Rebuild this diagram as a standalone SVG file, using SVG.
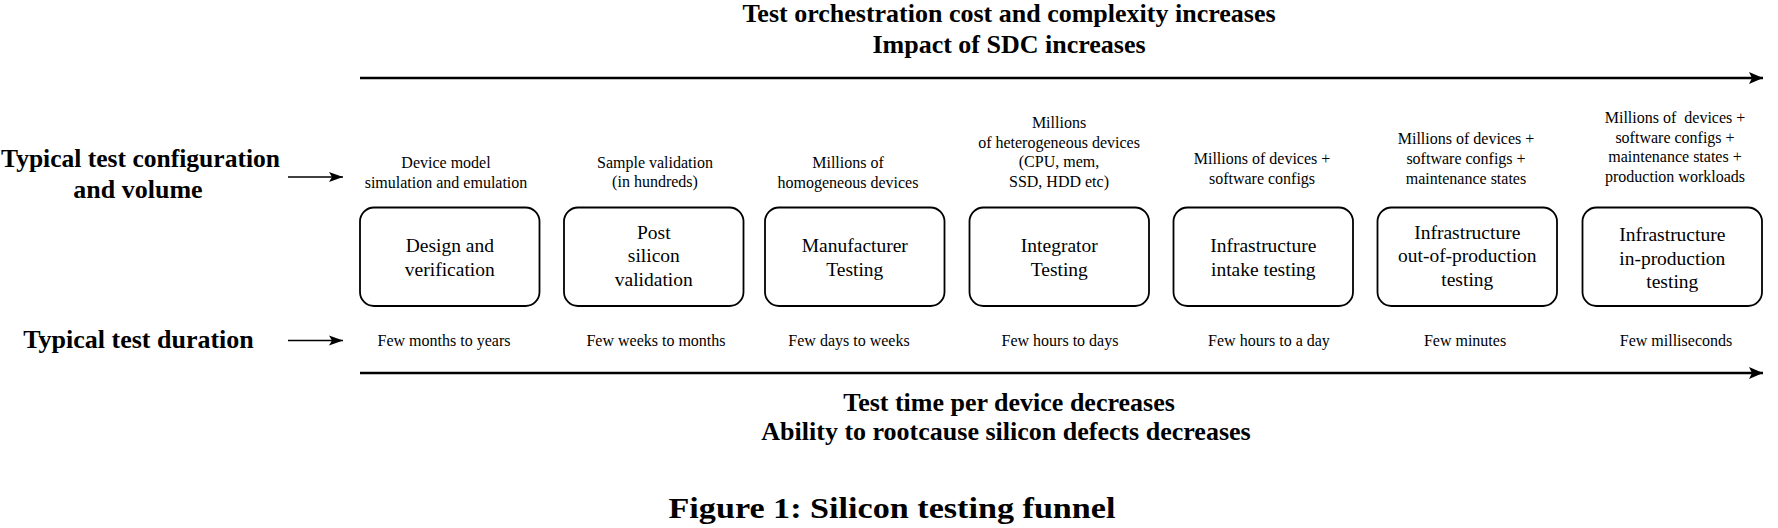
<svg xmlns="http://www.w3.org/2000/svg" width="1778" height="528" viewBox="0 0 1778 528">
<style>
.t{font-family:"Liberation Serif","Times New Roman",serif;fill:#000;text-anchor:middle}
.h{font-size:26px;font-weight:bold}
.box{fill:#fff;stroke:#000;stroke-width:1.8}
.bt{font-size:19.5px}
.sm{font-size:16px}
.ax{stroke:#000;stroke-width:2.5;fill:none}
.la{stroke:#000;stroke-width:1.6;fill:none}
</style>
<defs>
<marker id="big" markerUnits="userSpaceOnUse" markerWidth="16" markerHeight="14" refX="14" refY="7" orient="auto">
<path d="M0,1 L14,7 L0,13 L3,7 Z" fill="#000"/>
</marker>
<marker id="small" markerUnits="userSpaceOnUse" markerWidth="16" markerHeight="12" refX="14" refY="6" orient="auto">
<path d="M0,1 L14,6 L0,11 L3,6 Z" fill="#000"/>
</marker>
</defs>
<rect width="1778" height="528" fill="#fff"/>

<g id="headings">
<text class="t h" x="1009" y="22">Test orchestration cost and complexity increases</text>
<text class="t h" x="1009" y="53">Impact of SDC increases</text>
<text class="t h" x="1009" y="411">Test time per device decreases</text>
<text class="t h" x="1006" y="440">Ability to rootcause silicon defects decreases</text>
<text class="t h" x="140.5" y="167" textLength="279" lengthAdjust="spacingAndGlyphs">Typical test configuration</text>
<text class="t h" x="138" y="198">and volume</text>
<text class="t h" x="138.5" y="347.5">Typical test duration</text>
<text class="t" style="font-size:30px;font-weight:bold" x="892" y="518" textLength="447" lengthAdjust="spacingAndGlyphs">Figure 1: Silicon testing funnel</text>
</g>

<g id="connectors">
<line class="ax" x1="360" y1="78" x2="1763" y2="78" marker-end="url(#big)"/>
<line class="ax" x1="360" y1="373" x2="1763" y2="373" marker-end="url(#big)"/>
<line class="la" x1="288" y1="177" x2="343" y2="177" marker-end="url(#small)"/>
<line class="la" x1="288" y1="340.5" x2="343" y2="340.5" marker-end="url(#small)"/>
</g>

<g id="node1">
<rect class="box" x="360" y="207.5" width="179.5" height="98.5" rx="14"/>
<text class="t bt" x="449.8" y="251.5">Design and</text>
<text class="t bt" x="449.8" y="275.5">verification</text>
<text class="t sm" x="446" y="168.3">Device model</text>
<text class="t sm" x="446" y="187.5">simulation and emulation</text>
<text class="t sm" x="444" y="345.7">Few months to years</text>
</g>

<g id="node2">
<rect class="box" x="564" y="207.5" width="179.5" height="98.5" rx="14"/>
<text class="t bt" x="653.8" y="238.5">Post</text>
<text class="t bt" x="653.8" y="262">silicon</text>
<text class="t bt" x="653.8" y="285.5">validation</text>
<text class="t sm" x="655" y="167.5">Sample validation</text>
<text class="t sm" x="655" y="186.7">(in hundreds)</text>
<text class="t sm" x="656" y="345.7">Few weeks to months</text>
</g>

<g id="node3">
<rect class="box" x="765" y="207.5" width="179.5" height="98.5" rx="14"/>
<text class="t bt" x="854.8" y="251.5">Manufacturer</text>
<text class="t bt" x="854.8" y="275.5">Testing</text>
<text class="t sm" x="848" y="168.3">Millions of</text>
<text class="t sm" x="848" y="187.5">homogeneous devices</text>
<text class="t sm" x="849" y="345.7">Few days to weeks</text>
</g>

<g id="node4">
<rect class="box" x="969.5" y="207.5" width="179.5" height="98.5" rx="14"/>
<text class="t bt" x="1059.3" y="251.5">Integrator</text>
<text class="t bt" x="1059.3" y="275.5">Testing</text>
<text class="t sm" x="1059" y="128.3">Millions</text>
<text class="t sm" x="1059" y="147.7">of heterogeneous devices</text>
<text class="t sm" x="1059" y="167.2">(CPU, mem,</text>
<text class="t sm" x="1059" y="186.6">SSD, HDD etc)</text>
<text class="t sm" x="1060" y="345.7">Few hours to days</text>
</g>

<g id="node5">
<rect class="box" x="1173.5" y="207.5" width="179.5" height="98.5" rx="14"/>
<text class="t bt" x="1263.3" y="252">Infrastructure</text>
<text class="t bt" x="1263.3" y="276">intake testing</text>
<text class="t sm" x="1262" y="164.3">Millions of devices +</text>
<text class="t sm" x="1262" y="183.5">software configs</text>
<text class="t sm" x="1269" y="345.7">Few hours to a day</text>
</g>

<g id="node6">
<rect class="box" x="1377.5" y="207.5" width="179.5" height="98.5" rx="14"/>
<text class="t bt" x="1467.3" y="238.5">Infrastructure</text>
<text class="t bt" x="1467.3" y="262">out-of-production</text>
<text class="t bt" x="1467.3" y="285.5">testing</text>
<text class="t sm" x="1466" y="144.3">Millions of devices +</text>
<text class="t sm" x="1466" y="164">software configs +</text>
<text class="t sm" x="1466" y="183.5">maintenance states</text>
<text class="t sm" x="1465" y="345.7">Few minutes</text>
</g>

<g id="node7">
<rect class="box" x="1582.5" y="207.5" width="179.5" height="98.5" rx="14"/>
<text class="t bt" x="1672.3" y="241">Infrastructure</text>
<text class="t bt" x="1672.3" y="264.5">in-production</text>
<text class="t bt" x="1672.3" y="288">testing</text>
<text class="t sm" x="1675" y="123.3" style="white-space:pre">Millions of  devices +</text>
<text class="t sm" x="1675" y="142.7">software configs +</text>
<text class="t sm" x="1675" y="162.2">maintenance states +</text>
<text class="t sm" x="1675" y="181.6">production workloads</text>
<text class="t sm" x="1676" y="345.7">Few milliseconds</text>
</g>
</svg>
